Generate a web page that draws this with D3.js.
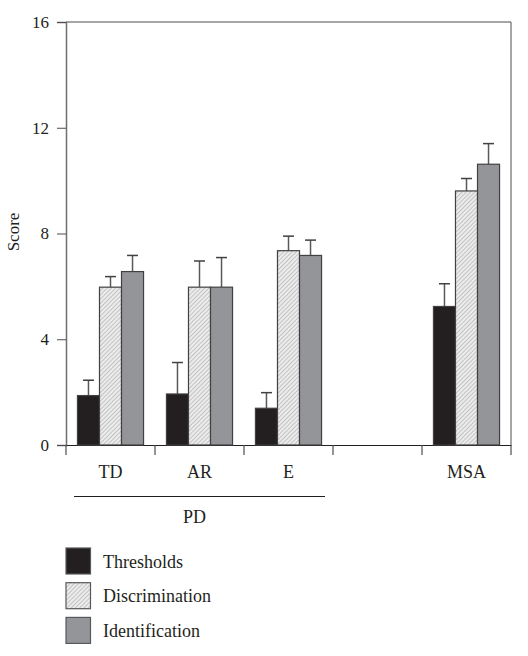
<!DOCTYPE html>
<html><head><meta charset="utf-8">
<script src="https://cdn.jsdelivr.net/npm/d3@7"></script>
<style>body{margin:0;background:#fff}svg{display:block}text{font-family:"Liberation Serif","Times New Roman",serif;fill:#231f20}</style>
</head><body><svg id="c" width="528" height="656"></svg>
<script>
const categories = ["TD","AR","E","","MSA"];
const seriesNames = ["Thresholds","Discrimination","Identification"];
const thresholds = [1.87, 1.93, 1.39, null, 5.24];
const thresholdsErr = [2.45, 3.12, 1.98, null, 6.10];
const discrimination = [5.97, 5.97, 7.35, null, 9.61];
const discriminationErr = [6.37, 6.96, 7.90, null, 10.08];
const identification = [6.56, 5.97, 7.17, null, 10.62];
const identificationErr = [7.17, 7.09, 7.75, null, 11.40];
const yTicks = [0,4,8,12,16];

const FONT = "'Liberation Serif', 'Times New Roman', serif";
const svg = d3.select("#c");
const defs = svg.append("defs");
const pat = defs.append("pattern").attr("id","hatch").attr("patternUnits","userSpaceOnUse")
  .attr("width",3).attr("height",3).attr("patternTransform","rotate(45)");
pat.append("rect").attr("width",3).attr("height",3).attr("fill","#ececec");
pat.append("line").attr("x1",0).attr("y1",0).attr("x2",0).attr("y2",3).attr("stroke","#9a9a9a").attr("stroke-width",1);

const fills = ["#231f20","url(#hatch)","#939598"];
const L=66, R=511, T=22, B=445;
const x = d3.scaleBand().domain(categories.map((c,i)=>i)).range([L,R]).paddingInner(0).paddingOuter(0);
const x1 = d3.scaleBand().domain(seriesNames).range([0,x.bandwidth()]).paddingOuter(0.52).paddingInner(0);
const y = d3.scaleLinear().domain([0,16]).range([B,T]);

// frame top and right
svg.append("line").attr("x1",L).attr("x2",R).attr("y1",T).attr("y2",T).attr("stroke","#4d4d4f").attr("stroke-width",1);
svg.append("line").attr("x1",R).attr("x2",R).attr("y1",T).attr("y2",B).attr("stroke","#4d4d4f").attr("stroke-width",1);

// y axis
const ya = svg.append("g").attr("transform",`translate(${L},0)`)
  .call(d3.axisLeft(y).tickValues(yTicks).tickSize(9).tickPadding(8));
ya.attr("font-size",17).attr("font-family",FONT);
ya.select(".domain").attr("stroke","#6d6e71").attr("stroke-width",1.5);
ya.selectAll(".tick line").attr("stroke","#4d4d4f");
ya.selectAll(".tick text").attr("fill","#231f20");

// x axis
const xa = svg.append("g").attr("transform",`translate(0,${B})`)
  .call(d3.axisBottom(x).tickSize(0).tickFormat(i=>categories[i]).tickPadding(20));
xa.attr("font-size",18).attr("font-family",FONT);
xa.select(".domain").attr("stroke","#231f20").attr("stroke-width",1);
xa.selectAll(".tick text").attr("fill","#231f20");
const edges = categories.map((c,i)=>x(i)).concat([R]);
svg.append("g").selectAll("line").data(edges).join("line")
  .attr("x1",d=>d).attr("x2",d=>d).attr("y1",B).attr("y2",B+10).attr("stroke","#4d4d4f").attr("stroke-width",1.2);

// bars
const vals = [thresholds, discrimination, identification];
const errs = [thresholdsErr, discriminationErr, identificationErr];
const data = [];
categories.forEach((c,i)=>seriesNames.forEach((s,j)=>{ if(vals[j][i]!=null) data.push({i,j,s,v:vals[j][i],e:errs[j][i]}); }));
const g = svg.append("g");
g.selectAll("line.err").data(data).join("line").attr("class","err")
  .attr("x1",d=>x(d.i)+x1(d.s)+x1.bandwidth()/2).attr("x2",d=>x(d.i)+x1(d.s)+x1.bandwidth()/2)
  .attr("y1",d=>y(d.v)).attr("y2",d=>y(d.e)).attr("stroke","#58595b").attr("stroke-width",1.5);
g.selectAll("line.cap").data(data).join("line").attr("class","cap")
  .attr("x1",d=>x(d.i)+x1(d.s)+x1.bandwidth()/2-5.5).attr("x2",d=>x(d.i)+x1(d.s)+x1.bandwidth()/2+5.5)
  .attr("y1",d=>y(d.e)).attr("y2",d=>y(d.e)).attr("stroke","#414042").attr("stroke-width",1.5);
g.selectAll("rect").data(data).join("rect")
  .attr("x",d=>x(d.i)+x1(d.s)).attr("width",x1.bandwidth())
  .attr("y",d=>y(d.v)).attr("height",d=>B-y(d.v))
  .attr("fill",d=>fills[d.j]).attr("stroke","#414042").attr("stroke-width",1.2);

// PD group
svg.append("line").attr("x1",74).attr("x2",325).attr("y1",496.5).attr("y2",496.5).attr("stroke","#231f20").attr("stroke-width",1);
svg.append("text").attr("x",(x(0)+x(3))/2 - 5).attr("y",523).attr("text-anchor","middle").attr("font-size",18).text("PD");

// y label
svg.append("text").attr("transform","translate(19,232) rotate(-90)").attr("text-anchor","middle").attr("font-size",17).text("Score");

// legend
const lg = svg.append("g").selectAll("g").data(seriesNames).join("g")
  .attr("transform",(d,i)=>`translate(66,${548+i*34.7})`);
lg.append("rect").attr("width",24.5).attr("height",26).attr("fill",(d,i)=>fills[i]).attr("stroke","#58595b").attr("stroke-width",1.2);
lg.append("text").attr("x",37).attr("y",19.5).attr("font-size",18).text(d=>d);
</script></body></html>
